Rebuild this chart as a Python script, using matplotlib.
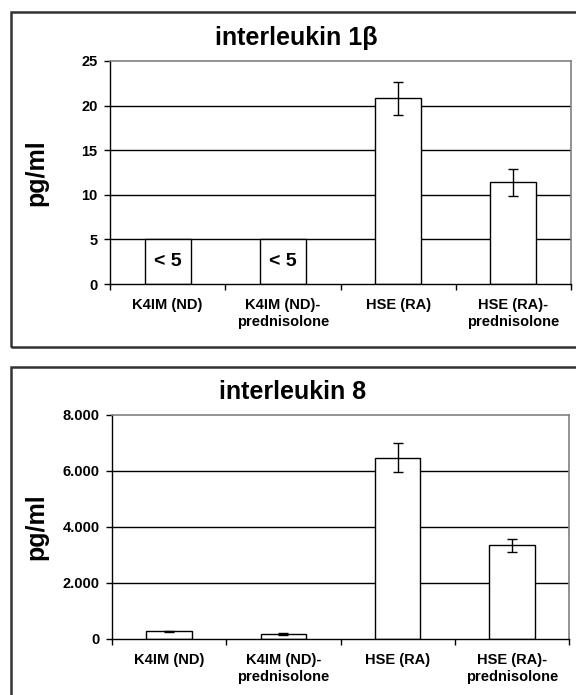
import matplotlib
matplotlib.use("Agg")
import matplotlib.pyplot as plt
from matplotlib.patches import Rectangle
from matplotlib.ticker import FuncFormatter, FixedLocator
import numpy as np

plt.rcParams['font.family'] = ['Liberation Sans', 'DejaVu Sans']
plt.rcParams['font.weight'] = 'bold'

categories = ["K4IM (ND)", "K4IM (ND)-\nprednisolone", "HSE (RA)", "HSE (RA)-\nprednisolone"]

il1b_title = "interleukin 1β"
il1b_values = [5, 5, 20.8, 11.4]
il1b_errors = [np.nan, np.nan, 1.9, 1.5]
il1b_bar_text = ["< 5", "< 5", "", ""]
il1b_ticks = [0, 5, 10, 15, 20, 25]

il8_title = "interleukin 8"
il8_values = [270, 190, 6480, 3350]
il8_errors = [30, 40, 520, 230]
il8_ticks = [0, 2000, 4000, 6000, 8000]

W, H = 576, 695
fig = plt.figure(figsize=(W / 100, H / 100), dpi=100)


def fx(px):
    return px / W


def fy(py):
    return 1 - py / H


# outer frames
fig.patches.append(Rectangle((fx(11), fy(347)), fx(600) - fx(11), fy(12) - fy(347),
                             transform=fig.transFigure, fill=False,
                             edgecolor='#333333', linewidth=1.8))
fig.patches.append(Rectangle((fx(11), fy(720)), fx(600) - fx(11), fy(367) - fy(720),
                             transform=fig.transFigure, fill=False,
                             edgecolor='#333333', linewidth=1.8))


def thousands(v, pos):
    return "{:,.0f}".format(v).replace(",", ".")


def panel(rect, title, title_x, title_y, values, errors, ticks, fmt, bar_text=None):
    ax = fig.add_axes(rect)
    x = np.arange(len(categories))
    ax.set_xlim(-0.5, len(categories) - 0.5)
    ax.set_ylim(ticks[0], ticks[-1])
    for t in ticks[1:-1]:
        ax.axhline(t, color='black', linewidth=1.0, zorder=1)
    ax.bar(x, values, width=0.4, color='white', edgecolor='black', linewidth=1.0, zorder=2)
    ax.errorbar(x, values, yerr=errors, fmt='none', ecolor='black', elinewidth=1.0,
                capsize=3.8, capthick=1.0, zorder=3)
    if bar_text is not None:
        for xi, v, t in zip(x, values, bar_text):
            if t:
                ax.text(xi, v / 2, t, ha='center', va='center', fontsize=14,
                        fontweight='bold', zorder=4)
    ax.yaxis.set_major_locator(FixedLocator(ticks))
    ax.yaxis.set_major_formatter(FuncFormatter(fmt))
    ax.set_xticks(x)
    ax.set_xticklabels(categories, fontsize=10.5, fontweight='bold', linespacing=1.3)
    ax.set_xticks(np.arange(-0.5, len(categories)), minor=True)
    ax.tick_params(axis='x', which='major', length=0, pad=10)
    ax.tick_params(axis='x', which='minor', length=4, width=1, direction='out')
    ax.tick_params(axis='y', length=4, width=1, direction='out', labelsize=10.5, pad=5)
    for lab in ax.get_yticklabels():
        lab.set_fontweight('bold')
    for s in ['top', 'right']:
        ax.spines[s].set_color('#808080')
        ax.spines[s].set_linewidth(1.2)
    for s in ['left', 'bottom']:
        ax.spines[s].set_color('black')
        ax.spines[s].set_linewidth(1.0)
    ax.set_ylabel("pg/ml", fontsize=18, fontweight='bold')
    ax.yaxis.set_label_coords(fx(48), 0.5 * (rect[1] + rect[1] + rect[3]),
                              transform=fig.transFigure)
    fig.text(title_x, title_y, title, ha='center', va='center', fontsize=18, fontweight='bold')
    return ax


ax1 = panel([fx(110), fy(284), fx(571) - fx(110), fy(61) - fy(284)],
            il1b_title, fx(296), fy(38), il1b_values, il1b_errors, il1b_ticks,
            lambda v, p: "{:.0f}".format(v), il1b_bar_text)
ax2 = panel([fx(112), fy(639), fx(569) - fx(112), fy(415) - fy(639)],
            il8_title, fx(293), fy(392), il8_values, il8_errors, il8_ticks, thousands)

fig.savefig("out.png", dpi=100)
